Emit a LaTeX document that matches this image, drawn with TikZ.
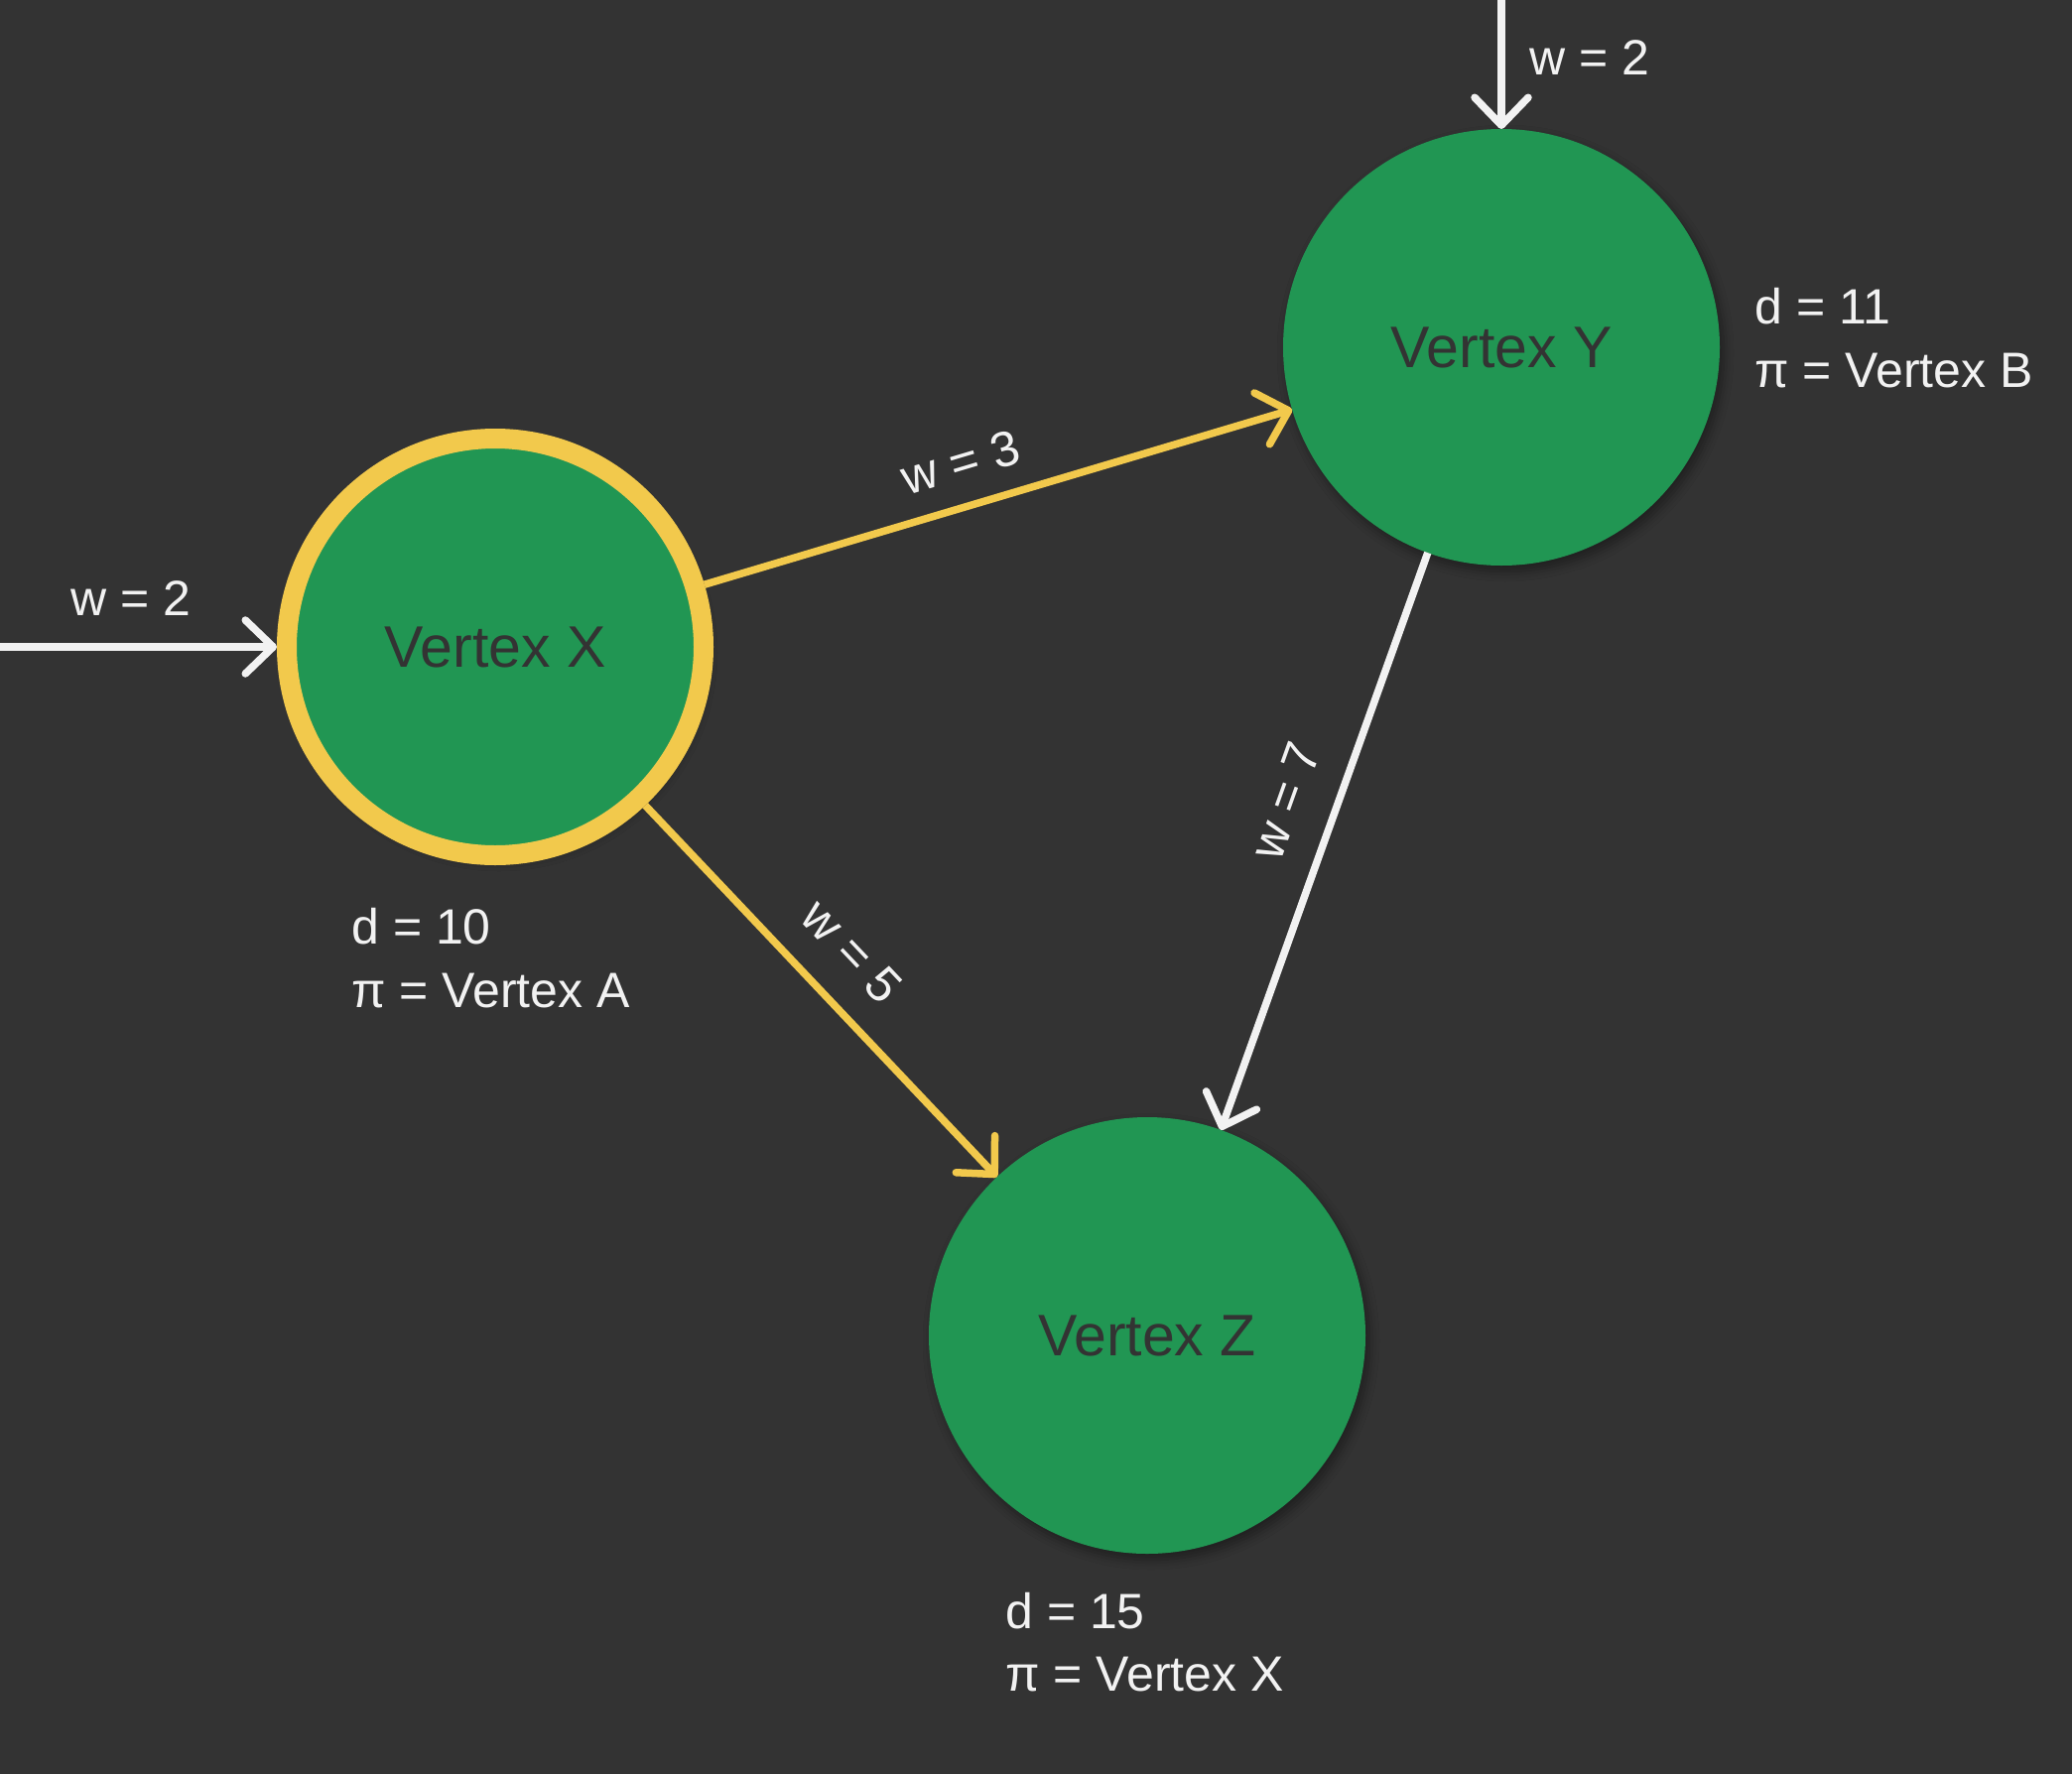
\documentclass[tikz,border=0pt]{standalone}
\usepackage{fontspec}
\setmainfont{Liberation Sans}
\usetikzlibrary{arrows.meta,shadows.blur}
\definecolor{bg}{HTML}{333333}
\definecolor{vgreen}{HTML}{219653}
\definecolor{vyellow}{HTML}{F2C94C}
\definecolor{vwhite}{HTML}{F2F2F2}
\definecolor{vtext}{HTML}{333333}
\begin{document}
\begin{tikzpicture}[x=0.5pt,y=-0.5pt,
  vertex/.style={circle, fill=vgreen, minimum size=220pt, inner sep=0pt, outer sep=0pt,
    text=vtext, font=\fontsize{29.5}{35}\selectfont,
    blur shadow={shadow xshift=2pt, shadow yshift=-3pt, shadow opacity=40, shadow blur radius=5pt}},
  active/.style={vertex, draw=vyellow, line width=10pt, minimum size=210pt, outer sep=5pt},
  tiphead/.style={-{Straight Barb[length=14pt,width=27pt,line cap=round,line join=round]}},
  wedge/.style={draw=vwhite, line width=3.75pt, tiphead},
  yedge/.style={draw=vyellow, line width=3.75pt, tiphead},
  lab/.style={text=vwhite, font=\fontsize{25}{30}\selectfont, inner sep=0pt}
]
\useasboundingbox (0,0) rectangle (2088,1788);
\fill[bg] (0,0) rectangle (2088,1788);

\node[active] (X) at (499,652) {Vertex X};
\node[vertex] (Y) at (1513,350) {Vertex Y};
\node[vertex] (Z) at (1156,1346) {Vertex Z};

\coordinate (inX) at (0,652);
\coordinate (inY) at (1513,0);

\draw[wedge] (inX) -- (X);
\draw[wedge] (inY) -- (Y);
\node[lab, anchor=base west] (lwX) at (71,620) {w = 2};
\node[lab, anchor=base west] (lwY) at (1541,75) {w = 2};

\draw[yedge] (X) -- node[lab, sloped, pos=0.457, above=11.5pt] (l3) {w = 3} (Y);
\draw[yedge] (X) -- node[lab, sloped, pos=0.485, above=14.5pt] (l5) {w = 5} (Z);
\draw[wedge] (Y) -- node[lab, sloped, pos=0.459, above=15pt] (l7) {w = 7} (Z);

\node[lab, anchor=base west] (dX) at (354,951) {d = 10};
\node[lab, anchor=base west] (pX) at (354,1015) {π = Vertex A};
\node[lab, anchor=base west] (dY) at (1768,326) {d = 11};
\node[lab, anchor=base west] (pY) at (1768,390) {π = Vertex B};
\node[lab, anchor=base west] (dZ) at (1013,1641) {d = 15};
\node[lab, anchor=base west] (pZ) at (1013,1704) {π = Vertex X};
\end{tikzpicture}
\end{document}
